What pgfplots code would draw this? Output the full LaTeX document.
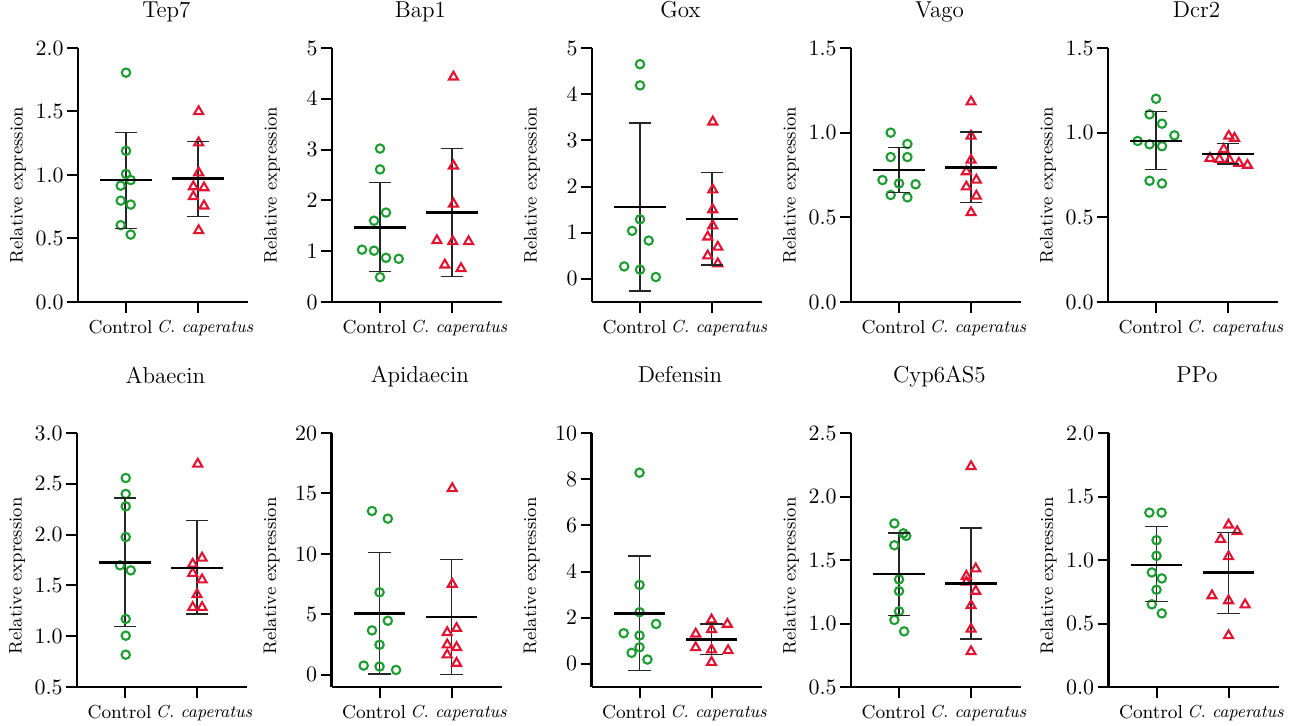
\documentclass[border=0pt]{standalone}
\usepackage{fontspec}
\usepackage{pgfplots}
\pgfplotsset{compat=1.18}
\definecolor{cgreen}{RGB}{30,158,50}
\definecolor{cred}{RGB}{226,20,50}
\newcommand{\stats}[6]{%
 \addplot[black, only marks, mark=-, mark size=12.8pt, mark options={line width=1.3pt, draw=black}] coordinates {(0,#1) (1,#4)};
 \addplot[black!85, line width=0.7pt, unbounded coords=jump, mark=none] coordinates {(0,#2) (0,#3) (0,nan) (1,#5) (1,#6)};
 \addplot[black!85, only marks, mark=-, mark size=5.7pt, mark options={line width=0.7pt, draw=black!85}] coordinates {(0,#2) (0,#3) (1,#5) (1,#6)};
}
\pgfplotsset{
 myax/.style={
  scale only axis, width=85pt, height=127pt, anchor=north west,
  xmin=-0.667, xmax=1.694,
  axis x line*=bottom, axis y line*=left,
  axis line style={-, line width=1.1pt, black},
  tick align=outside, major tick length=5.5pt,
  every tick/.style={black, line width=1pt},
  xtick={0,1},
  xticklabels={Control\hspace*{5.5pt}, {\hspace*{7pt}\fontsize{8.7}{10}\selectfont\itshape C. caperatus}},
  x tick label style={font=\fontsize{9.4}{11}\selectfont},
  y tick label style={font=\fontsize{11}{13}\selectfont, inner sep=1.5pt},
  title style={font=\fontsize{11.5}{13}\selectfont, at={(0.52,1)}, anchor=base, yshift=9pt},
  ylabel={Relative expression},
  ylabel style={font=\fontsize{9.1}{11}\selectfont, at={(axis description cs:-0.353,0.46)}, anchor=center},
  clip=false,
 },
 row2/.style={ylabel style={at={(axis description cs:-0.353,0.437)}}, title style={yshift=10pt}},
 dec1/.style={yticklabel style={/pgf/number format/.cd, fixed, fixed zerofill, precision=1}},
 c0/.style={only marks, mark=o, mark size=2.1pt, cgreen, mark options={line width=1.05pt}},
 c1/.style={only marks, mark=triangle, mark size=2.6pt, cred, mark options={line width=1.05pt}},
}
\begin{document}
\begin{tikzpicture}
% ---------- Row 1 ----------
\begin{axis}[myax, dec1, at={(39pt,-24pt)}, title={Tep7}, ymin=0, ymax=2, ytick={0,0.5,1,1.5,2}]
\addplot[c0] coordinates {(0,1.806) (0,1.19) (0,1.008) (0.065,0.96) (-0.074,0.916) (-0.074,0.798) (0.065,0.767) (-0.074,0.605) (0.065,0.531)};
\addplot[c1] coordinates {(1.009,1.50) (1.009,1.254) (1.009,1.018) (0.935,0.908) (1.083,0.90) (0.935,0.83) (1.083,0.757) (1.009,0.563)};
\stats{0.961}{0.579}{1.335}{0.974}{0.673}{1.262}
\end{axis}
\begin{axis}[myax, at={(166pt,-24pt)}, title={Bap1}, ymin=0, ymax=5, ytick={0,1,2,3,4,5}]
\addplot[c0] coordinates {(0,3.02) (0,2.61) (0.083,1.76) (-0.083,1.60) (-0.25,1.03) (-0.083,1.01) (0.083,0.87) (0.26,0.85) (0,0.49)};
\addplot[c1] coordinates {(1.02,4.43) (1.02,2.68) (1.02,1.93) (0.79,1.21) (1.01,1.19) (1.23,1.19) (0.9,0.73) (1.125,0.66)};
\stats{1.47}{0.60}{2.35}{1.76}{0.50}{3.02}
\end{axis}
\begin{axis}[myax, at={(296pt,-24pt)}, title={Gox}, ymin=-0.5, ymax=5, ytick={0,1,2,3,4,5}]
\addplot[c0] coordinates {(0,4.65) (0,4.19) (0,1.29) (-0.11,1.04) (0.12,0.83) (-0.22,0.27) (0,0.20) (0.22,0.04)};
\addplot[c1] coordinates {(1.01,3.40) (1.01,1.93) (1.01,1.50) (1.01,1.15) (0.94,0.91) (1.08,0.69) (0.94,0.50) (1.08,0.33)};
\stats{1.56}{-0.26}{3.38}{1.30}{0.30}{2.30}
\end{axis}
\begin{axis}[myax, dec1, at={(425.5pt,-24pt)}, title={Vago}, ymin=0, ymax=1.5, ytick={0,0.5,1,1.5}]
\addplot[c0] coordinates {(-0.116,1.0) (0.116,0.933) (-0.116,0.856) (0.116,0.856) (-0.23,0.72) (0,0.70) (0.23,0.695) (-0.116,0.632) (0.116,0.618)};
\addplot[c1] coordinates {(1.0,1.182) (1.0,0.98) (1.0,0.838) (0.935,0.77) (1.074,0.72) (0.935,0.68) (1.074,0.626) (1.0,0.528)};
\stats{0.78}{0.645}{0.911}{0.795}{0.587}{1.003}
\end{axis}
\begin{axis}[myax, dec1, at={(554pt,-24pt)}, title={Dcr2}, ymin=0, ymax=1.5, ytick={0,0.5,1,1.5}]
\addplot[c0] coordinates {(0,1.20) (-0.09,1.108) (0.083,1.053) (0.255,0.984) (-0.255,0.951) (-0.09,0.931) (0.083,0.92) (-0.09,0.716) (0.083,0.70)};
\addplot[c1] coordinates {(1.01,0.98) (1.09,0.967) (0.94,0.902) (0.75,0.849) (0.88,0.843) (1.02,0.837) (1.15,0.82) (1.27,0.808)};
\stats{0.951}{0.784}{1.124}{0.875}{0.814}{0.935}
\end{axis}
% ---------- Row 2 ----------
\begin{axis}[myax, row2, dec1, at={(38.5pt,-216.5pt)}, title={Abaecin}, ymin=0.5, ymax=3, ytick={0.5,1,1.5,2,2.5,3}]
\addplot[c0] coordinates {(0.01,2.557) (0.01,2.40) (0.01,2.278) (0.01,1.976) (-0.07,1.698) (0.08,1.648) (0.01,1.17) (0.01,1.005) (0.01,0.818)};
\addplot[c1] coordinates {(1.01,2.695) (1.07,1.77) (0.94,1.71) (0.94,1.62) (1.07,1.556) (1.0,1.41) (0.94,1.284) (1.07,1.284)};
\stats{1.728}{1.097}{2.36}{1.67}{1.218}{2.137}
\end{axis}
\begin{axis}[myax, row2, at={(165.75pt,-216.5pt)}, title={Apidaecin}, ymin=-1, ymax=20, ytick={0,5,10,15,20}]
\addplot[c0] coordinates {(-0.105,13.55) (0.115,12.92) (0,6.83) (0.115,4.48) (-0.105,3.68) (0,2.49) (-0.22,0.77) (0,0.69) (0.23,0.41)};
\addplot[c1] coordinates {(1.01,15.41) (1.01,7.50) (1.07,3.85) (0.94,3.51) (0.94,2.49) (1.07,2.27) (0.94,1.66) (1.07,0.97)};
\stats{5.10}{0.08}{10.12}{4.78}{0.05}{9.52}
\end{axis}
\begin{axis}[myax, row2, at={(295.75pt,-216.5pt)}, title={Defensin}, ymin=-1, ymax=10, ytick={0,2,4,6,8,10}]
\addplot[c0] coordinates {(0,8.28) (0,3.42) (0,2.24) (0.23,1.73) (-0.22,1.33) (0,1.23) (0,0.72) (-0.11,0.48) (0.11,0.19)};
\addplot[c1] coordinates {(1.0,1.91) (1.22,1.72) (1.0,1.49) (0.78,1.30) (0.78,0.71) (1.0,0.61) (1.23,0.58) (1.0,0.07)};
\stats{2.19}{-0.29}{4.67}{1.06}{0.40}{1.73}
\end{axis}
\begin{axis}[myax, row2, dec1, at={(425.5pt,-216.5pt)}, title={Cyp6AS5}, ymin=0.5, ymax=2.5, ytick={0.5,1,1.5,2,2.5}]
\addplot[c0] coordinates {(-0.065,1.788) (0.06,1.71) (0.1,1.69) (-0.065,1.616) (0,1.347) (0,1.255) (0,1.096) (-0.065,1.028) (0.07,0.938)};
\addplot[c1] coordinates {(1.0,2.236) (1.065,1.431) (0.935,1.373) (0.935,1.326) (1.065,1.255) (1.0,1.141) (1.0,0.956) (1.0,0.779)};
\stats{1.39}{1.065}{1.712}{1.315}{0.877}{1.753}
\end{axis}
\begin{axis}[myax, row2, dec1, at={(554.25pt,-216.5pt)}, title={PPo}, ymin=0, ymax=2, ytick={0,0.5,1,1.5,2}]
\addplot[c0] coordinates {(-0.10,1.373) (0.07,1.373) (0,1.156) (0,1.033) (-0.065,0.902) (0.073,0.855) (0,0.766) (-0.065,0.651) (0.073,0.58)};
\addplot[c1] coordinates {(1.0,1.276) (1.12,1.224) (0.89,1.163) (1.0,1.027) (0.77,0.719) (1.0,0.68) (1.23,0.648) (1.0,0.405)};
\stats{0.962}{0.675}{1.263}{0.90}{0.578}{1.218}
\end{axis}
\pgfresetboundingbox
\path[use as bounding box] (0,0) rectangle (657.5pt,-363pt);
\end{tikzpicture}
\end{document}
